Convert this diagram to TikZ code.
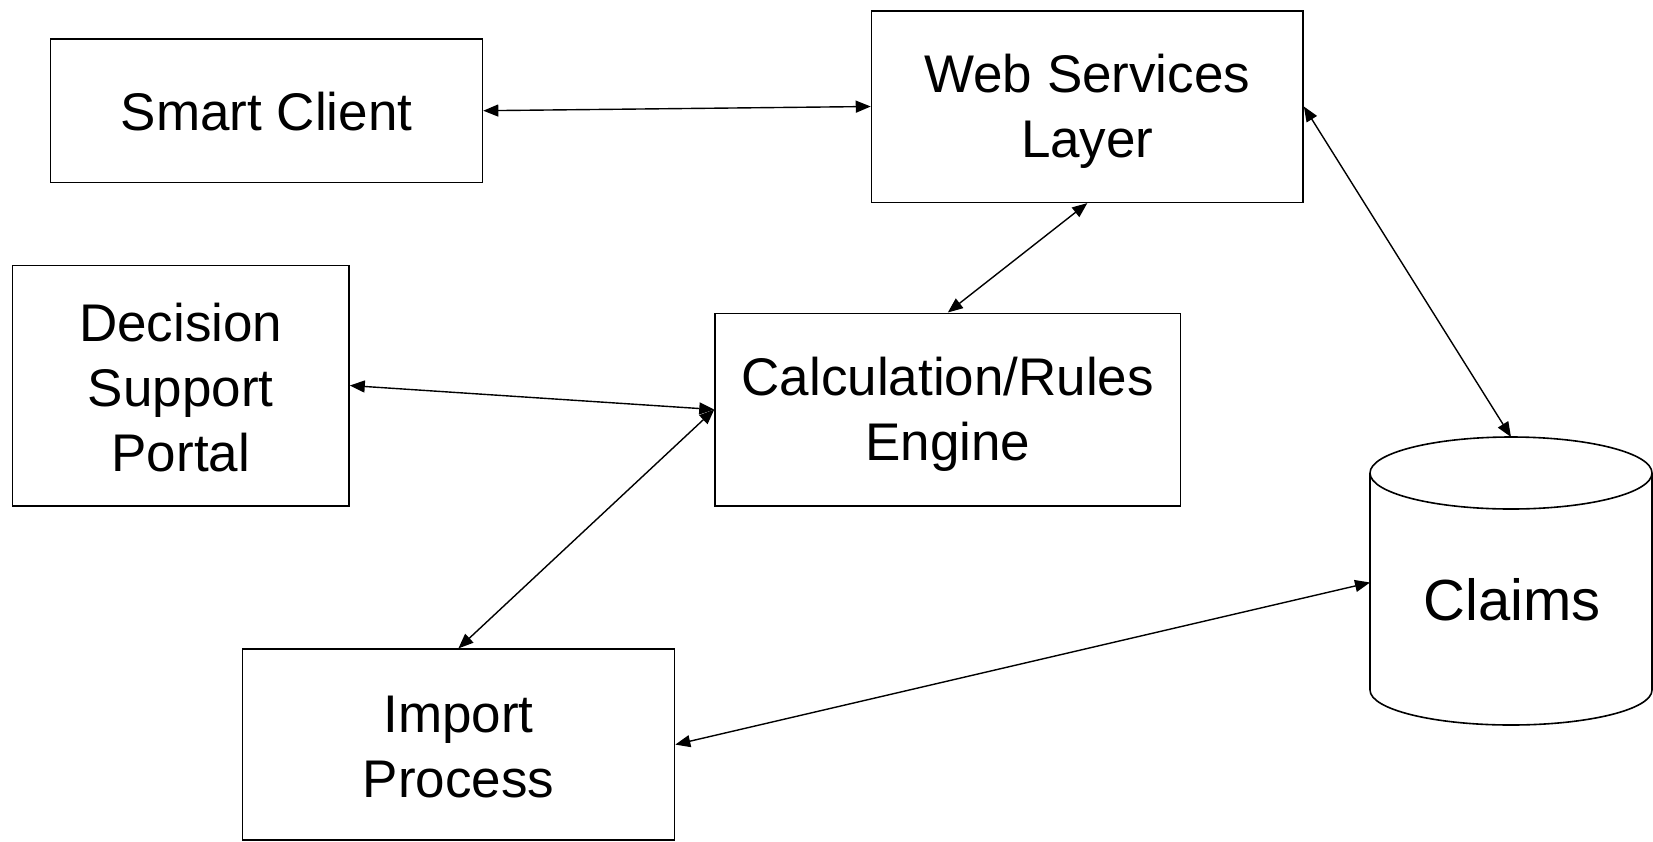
\documentclass[tikz,border=0pt]{standalone}
\usepackage{fontspec}
\setmainfont{Liberation Sans}
\usetikzlibrary{arrows.meta}
\begin{document}
\begin{tikzpicture}[x=0.5pt,y=-0.5pt,
  box/.style={draw=black,line width=0.8pt,rectangle,inner sep=0pt},
  lbl/.style={inner sep=0pt,align=center,font=\fontsize{26.5}{32.5}\selectfont},
  link/.style={line width=0.7pt,{Triangle[length=7.5pt,width=6pt]}-{Triangle[length=7.5pt,width=6pt]}}]
\useasboundingbox (0,0) rectangle (1653,841);
\node[box,minimum width=216pt,minimum height=71.7pt] (sc) at (266.5,110.7) {};
\node[box,minimum width=215.75pt,minimum height=95.8pt] (ws) at (1087.3,106.5) {};
\node[box,minimum width=168.2pt,minimum height=120.2pt] (ds) at (180.8,385.5) {};
\node[box,minimum width=232.75pt,minimum height=96.2pt] (ce) at (947.8,409.5) {};
\node[box,minimum width=216.1pt,minimum height=95.4pt] (ip) at (458.4,744.6) {};
\node[lbl] (sct) at ([yshift=-0.6pt]sc.center) {Smart Client};
\node[lbl] (wst) at ([yshift=-2.6pt]ws.center) {Web Services\\Layer};
\node[lbl] (dst) at ([yshift=-0.8pt]ds.center) {Decision\\Support\\Portal};
\node[lbl] (cet) at ([yshift=-2.6pt]ce.center) {Calculation/Rules\\Engine};
\node[lbl] (ipt) at ([yshift=-1.4pt]ip.center) {Import\\Process};
% Claims cylinder
\draw[line width=0.8pt] (1511,473) ellipse [x radius=141, y radius=36];
\draw[line width=0.8pt] (1370,473) -- (1370,690) arc[start angle=180,end angle=0,x radius=141,y radius=35] -- (1652,473);
\coordinate (cltop) at (1511,437);
\coordinate (clleft) at (1370,582.5);
\node[anchor=base,font=\fontsize{29}{34}\selectfont,inner sep=0pt] (cl) at (1512,620) {Claims};
% connectors
\draw[link] (sc.east) -- (ws.west);
\draw[link] (ws.south) -- (ce.north);
\draw[link] (ds.east) -- (ce.west);
\draw[link] (ip.north) -- (ce.west);
\draw[link] (ws.east) -- (cltop);
\draw[link] (ip.east) -- (clleft);
\end{tikzpicture}
\end{document}
